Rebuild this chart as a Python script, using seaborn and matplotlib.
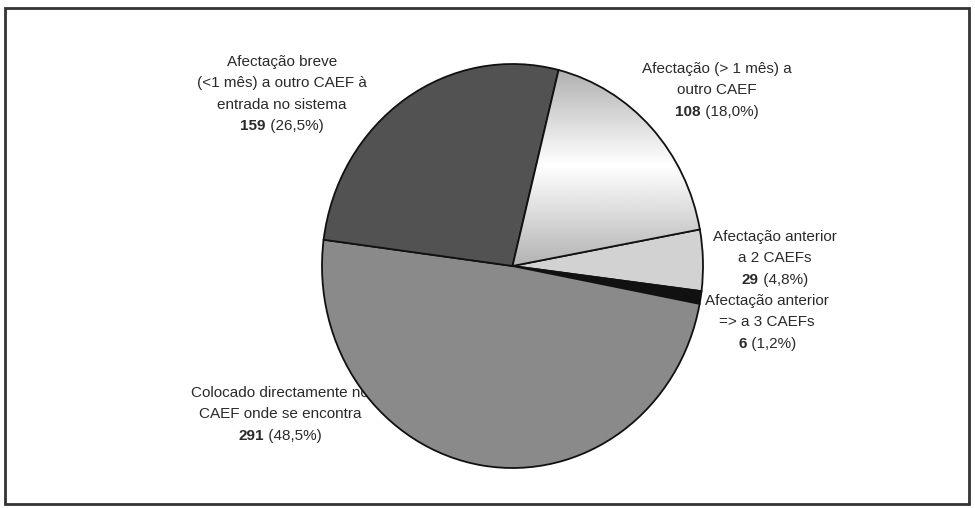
import numpy as np
import matplotlib
matplotlib.use("Agg")
import matplotlib.pyplot as plt
from matplotlib.patches import Rectangle
import seaborn as sns

# ---- data ----
categories = [
    "Afectação (> 1 mês) a\noutro CAEF",
    "Afectação anterior\na 2 CAEFs",
    "Afectação anterior\n=> a 3 CAEFs",
    "Colocado directamente no\nCAEF onde se encontra",
    "Afectação breve\n(<1 mês) a outro CAEF à\nentrada no sistema",
]
counts = [108, 29, 6, 291, 159]
pct_labels = ["(18,0%)", "(4,8%)", "(1,2%)", "(48,5%)", "(26,5%)"]

# ---- style ----
sns.set_theme(style="white")
plt.rcParams["font.family"] = ["Liberation Sans", "DejaVu Sans"]

W, H = 975, 508
fig = plt.figure(figsize=(W / 100, H / 100), dpi=100)
fig.patch.set_facecolor("white")

# overlay axes in pixel coordinates (behind pie)
ax_t = fig.add_axes([0, 0, 1, 1], zorder=0)
ax_t.set_xlim(0, W)
ax_t.set_ylim(H, 0)
ax_t.axis("off")

# pie axes (slightly elliptical, as in the reference)
px0, px1, py0, py1 = 322, 703, 64, 468
ax_p = fig.add_axes([px0 / W, (H - py1) / H, (px1 - px0) / W, (py1 - py0) / H], zorder=1)
ax_p.patch.set_visible(False)

colors = ["#d6d6d6", "#d2d2d2", "#111111", "#8a8a8a", "#525252"]
wedges, _ = ax_p.pie(
    counts, colors=colors, startangle=76, counterclock=False, radius=1.0,
    wedgeprops=dict(edgecolor="#111111", linewidth=1.3),
)
ax_p.set_aspect("auto")

# light gradient fill for the first slice
yy = np.linspace(1, -1, 400)
grad = np.where(yy > 0.5, 1 - 0.65 * (yy - 0.5), 1 - 0.6 * (0.5 - yy))
grad = np.clip(grad, 0, 1)
img = np.tile(grad[:, None], (1, 400))
im = ax_p.imshow(img, extent=(-1, 1, -1, 1), cmap="gray", vmin=0, vmax=1,
                 aspect="auto", zorder=wedges[0].get_zorder() + 0.1, interpolation="bilinear")
im.set_clip_path(wedges[0])
wedges[0].set_zorder(wedges[0].get_zorder() + 0.2)
wedges[0].set_facecolor("none")
ax_p.set_xlim(-1.0, 1.0)
ax_p.set_ylim(-1.0, 1.0)

# ---- labels ----
label_pos = [  # (center x, first line y) in pixels
    (717, 69),
    (775, 237),
    (767, 301),
    (280, 393),
    (282, 62),
]
fs = 11
tc = "#2a2a2a"
line_h = 21.3
fig.canvas.draw()
renderer = fig.canvas.get_renderer()
for cat, n, pct, (cx, y0) in zip(categories, counts, pct_labels, label_pos):
    lines = cat.split("\n")
    for i, ln in enumerate(lines):
        ax_t.text(cx, y0 + i * line_h, ln, ha="center", va="center",
                  fontsize=fs, color=tc)
    yl = y0 + len(lines) * line_h
    t1 = ax_t.text(cx, yl, str(n), ha="left", va="center", fontsize=fs,
                   fontweight="bold", color=tc)
    t2 = ax_t.text(cx, yl, " " + pct, ha="left", va="center", fontsize=fs, color=tc)
    w1 = t1.get_window_extent(renderer).width
    w2 = t2.get_window_extent(renderer).width
    start = cx - (w1 + w2) / 2
    t1.set_x(start)
    t2.set_x(start + w1)

# frame
ax_t.add_patch(Rectangle((5, 8), 964, 496, fill=False, edgecolor="#333333", linewidth=2))

fig.savefig("out.png", dpi=100, facecolor="white")
